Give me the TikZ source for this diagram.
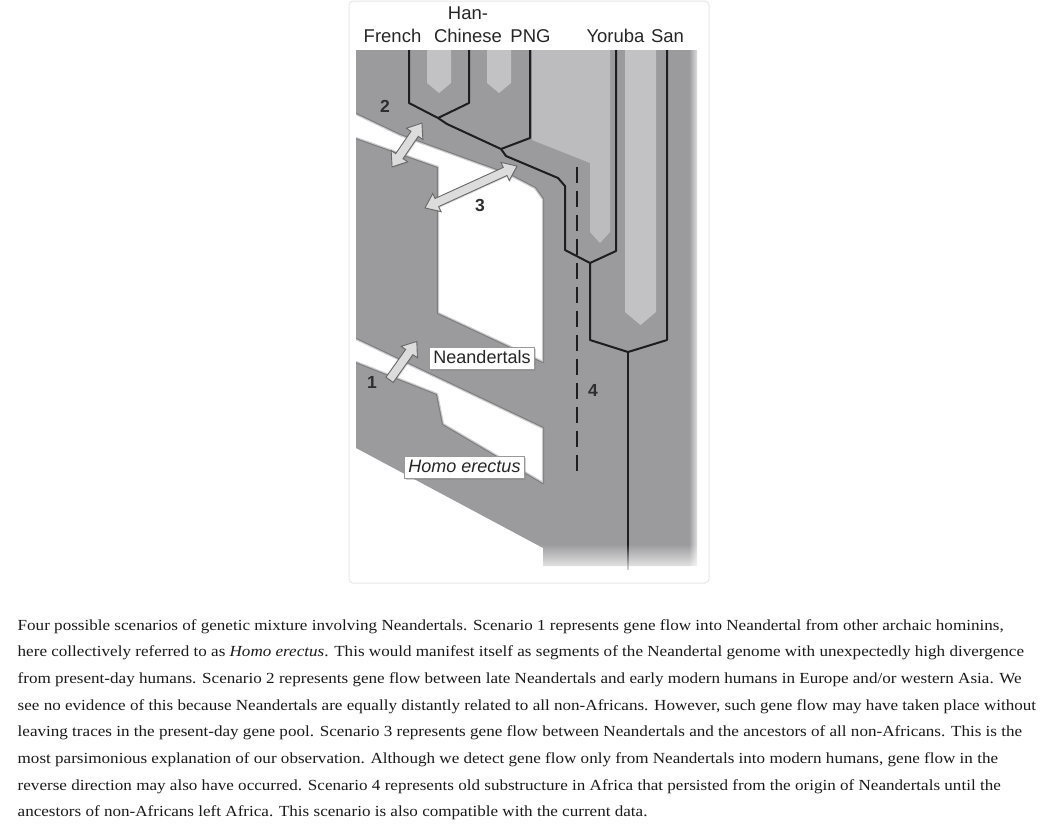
\documentclass[tikz,border=0pt]{standalone}
\usepackage{fontspec}
\setmainfont{Liberation Serif}
\setsansfont{Liberation Sans}
\newfontfamily\capfont[FakeStretch=1.109]{Liberation Serif}
\usetikzlibrary{shapes.arrows,fadings,shadows,calc}
\definecolor{tubegray}{HTML}{9B9B9E}
\definecolor{lightreg}{HTML}{BCBCBF}
\definecolor{stripegray}{HTML}{C2C2C5}
\definecolor{treeblack}{HTML}{1E1E1E}
\definecolor{arrowfill}{HTML}{DCDCDC}
\definecolor{arrowedge}{HTML}{686868}
\definecolor{framegray}{HTML}{E6E6E6}
\definecolor{captext}{HTML}{1A1A1A}
\definecolor{numtext}{HTML}{2E2E2E}
\tikzset{
  tree/.style={treeblack, line width=2pt, line join=round},
  gapedge/.style={draw=black, draw opacity=0.2, line width=2.2pt, line join=round},
  poplabel/.style={font=\sffamily\fontsize{18.5}{20}\selectfont, text=black!85, anchor=base, inner sep=0pt},
  boxlabel/.style={font=\sffamily\fontsize{18}{20}\selectfont, text=black!85, fill=white, draw=black!40, line width=0.8pt,
     inner xsep=4pt, inner ysep=3pt, text height=13pt, text depth=3.5pt,
     drop shadow={shadow xshift=1.5pt, shadow yshift=-1.5pt, opacity=0.35}},
  num/.style={font=\sffamily\bfseries\fontsize{17.5}{18}\selectfont, text=numtext, inner sep=0pt},
  flowarrow/.style={fill=arrowfill, draw=arrowedge, line width=0.9pt, inner xsep=0pt, inner ysep=4pt,
     drop shadow={shadow xshift=1pt, shadow yshift=-1pt, opacity=0.3}},
  captionline/.style={font=\capfont\fontsize{15.4}{18}\selectfont, text=captext, anchor=base west, inner sep=0pt},
}
\begin{document}
\begin{tikzpicture}[x=1pt,y=-1pt]
\useasboundingbox (0,0) rectangle (1043,828);
% frame
\draw[framegray, line width=1pt, rounded corners=4pt] (349,1) rectangle (709,583);
% base silhouette
\path[fill=tubegray] (356,50) -- (697,50) -- (697,566) -- (543,566) -- (543,548) -- (356,448) -- cycle;
% light regions
\path[fill=lightreg] (532,50) -- (610,50) -- (610,232) -- (600,243) -- (590,232) -- (590,163) -- (532,140) -- cycle;
\path[fill=stripegray] (625,50) -- (656,50) -- (656,312) -- (640.5,325) -- (625,312) -- cycle;
\path[fill=stripegray] (427,50) -- (451,50) -- (451,83) -- (439,93) -- (427,83) -- cycle;
\path[fill=stripegray] (487,50) -- (511,50) -- (511,83) -- (499,93) -- (487,83) -- cycle;
% white gaps
\path[fill=white] (350,114) -- (356,114) -- (400,135) -- (510,175) -- (535,188) -- (543,199) -- (543,362) -- (438,313) -- (438,167) -- (356,138) -- (350,138) -- cycle;
\path[fill=white] (350,339) -- (356,339) -- (543,428) -- (543,483) -- (443,424) -- (437,394) -- (356,362) -- (350,362) -- cycle;
\begin{scope}
\clip (356,50) -- (697,50) -- (697,566) -- (543,566) -- (543,548) -- (356,448) -- cycle;
\path[gapedge] (340,109) -- (356,114) -- (400,135) -- (510,175) -- (535,188) -- (543,199) -- (543,362) -- (438,313) -- (438,167) -- (356,138) -- (340,132);
\path[gapedge] (340,332) -- (356,339) -- (543,428) -- (543,483) -- (443,424) -- (437,394) -- (356,362) -- (340,356);
\end{scope}
% tree coordinates
\coordinate (frT) at (409,50);  \coordinate (frB) at (409,103);
\coordinate (hanT) at (469,50); \coordinate (hanB) at (469,103);
\coordinate (mA) at (438,118);  \coordinate (mA2) at (447,124);
\coordinate (pngT) at (530,50); \coordinate (pngB) at (530,138);
\coordinate (mB) at (501,149);  \coordinate (mB2) at (506,156);
\coordinate (mB3) at (558,178); \coordinate (naT) at (565,186);
\coordinate (naB) at (565,250);
\coordinate (yorT) at (616,50); \coordinate (yorB) at (616,251);
\coordinate (mC) at (590,263);  \coordinate (mCB) at (590,340);
\coordinate (sanT) at (667,50); \coordinate (sanB) at (667,340);
\coordinate (mD) at (628,352);  \coordinate (root) at (628,570);
\draw[tree] (frT) -- (frB) -- (mA) -- (hanB) -- (hanT);
\draw[tree] (mA) -- (mA2) -- (mB);
\draw[tree] (pngT) -- (pngB) -- (mB);
\draw[tree] (mB) -- (mB2) -- (mB3) -- (naT) -- (naB) -- (mC) -- (yorB) -- (yorT);
\draw[tree] (mC) -- (mCB) -- (mD) -- (sanB) -- (sanT);
\draw[tree] (mD) -- (root);
% dashed substructure line
\coordinate (d4s) at (577,167); \coordinate (d4e) at (577,472);
\draw[treeblack, line width=2.6pt, dash pattern=on 16pt off 8pt] (d4s) -- (d4e);
% fades
\fill[white, path fading=north] (538,544) rectangle (702,575);
\fill[white, path fading=west] (689,44) rectangle (701,575);
% gene-flow arrows
\coordinate (a2s) at (392,167); \coordinate (a2e) at (422,123);
\coordinate (a3s) at (425,208); \coordinate (a3e) at (517,166);
\coordinate (a1s) at (388,382); \coordinate (a1e) at (415,344);
\node[flowarrow, double arrow, double arrow head extend=5.5pt, double arrow tip angle=75, minimum height=53pt, rotate=55.7] (ar2) at ($(a2s)!0.5!(a2e)$) {};
\node[flowarrow, double arrow, double arrow head extend=5.5pt, double arrow tip angle=75, minimum height=101pt, rotate=24.5] (ar3) at ($(a3s)!0.5!(a3e)$) {};
\node[flowarrow, single arrow, single arrow head extend=5.5pt, single arrow tip angle=75, minimum height=47pt, rotate=54.6] (ar1) at ($(a1s)!0.5!(a1e)$) {};
% numbers
\node[num] (n1) at (372,382) {1};
\node[num] (n2) at (385,106) {2};
\node[num] (n3) at (480,205) {3};
\node[num] (n4) at (593,390) {4};
% boxed labels
\node[boxlabel] (nea) at (482,358.5) {Neandertals};
\node[boxlabel] (her) at (464.5,467.5) {\itshape Homo erectus};
% population labels
\node[poplabel] (lhan1) at (468,19.5) {Han-};
\node[poplabel] (lfr) at (392.5,42) {French};
\node[poplabel] (lhan2) at (468,42) {Chinese};
\node[poplabel] (lpng) at (530.5,42) {PNG};
\node[poplabel] (lyor) at (615.5,42) {Yoruba};
\node[poplabel] (lsan) at (667.5,42) {San};
% caption
\node[captionline] (c1) at (17.5,630) {Four possible scenarios of genetic mixture involving Neandertals. Scenario 1 represents gene flow into Neandertal from other archaic hominins,};
\node[captionline] (c2) at (17.5,656.7) {here collectively referred to as \textit{Homo erectus}. This would manifest itself as segments of the Neandertal genome with unexpectedly high divergence};
\node[captionline] (c3) at (17.5,683.3) {from present-day humans. Scenario 2 represents gene flow between late Neandertals and early modern humans in Europe and/or western Asia. We};
\node[captionline] (c4) at (17.5,710) {see no evidence of this because Neandertals are equally distantly related to all non-Africans. However, such gene flow may have taken place without};
\node[captionline] (c5) at (17.5,736.7) {leaving traces in the present-day gene pool. Scenario 3 represents gene flow between Neandertals and the ancestors of all non-Africans. This is the};
\node[captionline] (c6) at (17.5,763.3) {most parsimonious explanation of our observation. Although we detect gene flow only from Neandertals into modern humans, gene flow in the};
\node[captionline] (c7) at (17.5,790) {reverse direction may also have occurred. Scenario 4 represents old substructure in Africa that persisted from the origin of Neandertals until the};
\node[captionline] (c8) at (17.5,816.7) {ancestors of non-Africans left Africa. This scenario is also compatible with the current data.};
\end{tikzpicture}
\end{document}
